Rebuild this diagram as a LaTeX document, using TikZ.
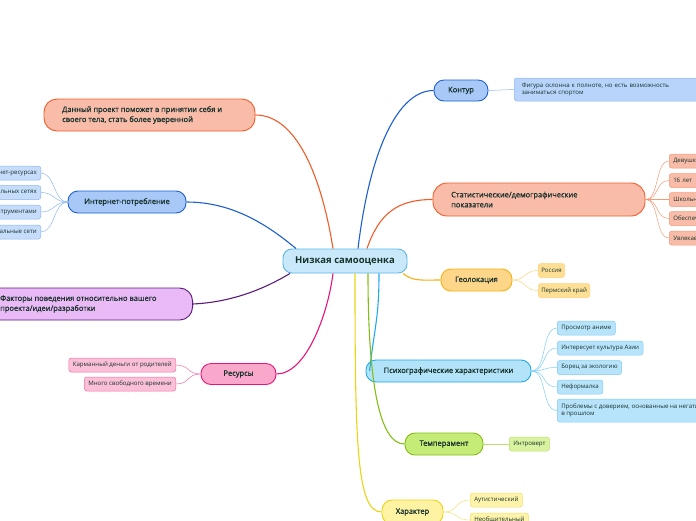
\documentclass[tikz,border=0pt]{standalone}
\usepackage{fontspec}
\setmainfont{Open Sans}
\newfontfamily\semib[BoldFont={Open Sans}, BoldFeatures={FakeBold=0.9}]{Open Sans}
\definecolor{txt}{RGB}{22,48,42}
\definecolor{lorange}{RGB}{242,92,40}
\definecolor{lblue}{RGB}{30,95,210}
\definecolor{lpurple}{RGB}{90,28,120}
\definecolor{lpink}{RGB}{232,20,122}
\definecolor{lgeo}{RGB}{250,175,20}
\definecolor{lpsy}{RGB}{30,170,235}
\definecolor{lgreen}{RGB}{130,190,20}
\definecolor{lyellow}{RGB}{235,212,20}
\definecolor{cdraw}{RGB}{90,183,232}
\definecolor{cfill}{RGB}{201,233,251}
\definecolor{fsalmon}{RGB}{248,188,169}
\definecolor{fblue}{RGB}{168,201,248}
\definecolor{fpurple}{RGB}{233,186,246}
\definecolor{fpink}{RGB}{249,168,204}
\definecolor{fgeo}{RGB}{253,214,138}
\definecolor{fpsy}{RGB}{179,227,248}
\definecolor{fgreen}{RGB}{198,236,120}
\definecolor{fyellow}{RGB}{253,243,163}
\definecolor{bldraw}{RGB}{141,182,240}
\definecolor{blfill}{RGB}{197,220,250}
\definecolor{bkfill}{RGB}{184,212,251}
\definecolor{pkdraw}{RGB}{240,110,166}
\definecolor{pkfill}{RGB}{251,192,216}
\definecolor{sadraw}{RGB}{243,154,120}
\definecolor{gedraw}{RGB}{253,210,122}
\definecolor{gefill}{RGB}{253,224,150}
\definecolor{psdraw}{RGB}{127,205,242}
\definecolor{psfill}{RGB}{184,228,251}
\definecolor{grdraw}{RGB}{184,224,112}
\definecolor{grfill}{RGB}{218,243,160}
\definecolor{yedraw}{RGB}{245,225,110}
\definecolor{yefill}{RGB}{253,243,170}
\tikzset{
  base/.style={text=txt, inner sep=0pt, line width=0.9pt},
  central/.style={base, rounded corners=9pt, draw=cdraw, fill=cfill, font=\fontsize{9.5}{11}\selectfont\bfseries, minimum height=24pt},
  tfont/.style={font=\fontsize{7.5}{10}\selectfont\semib\bfseries},
  topic/.style={base, tfont, rounded corners=10pt, minimum height=22pt},
  ttext/.style={text=txt, tfont, anchor=west, align=left, inner sep=0pt},
  leaf/.style={text=txt, inner sep=0pt, line width=0.5pt, rounded corners=2.5pt, minimum height=14pt, font=\fontsize{6.1}{7.6}\selectfont, align=left},
  conn/.style={line width=1.1pt},
  lconn/.style={line width=0.5pt},
}
\begin{document}
\begin{tikzpicture}[x={(1pt,0pt)},y={(0pt,-1pt)}]
\useasboundingbox (0,0) rectangle (696,520);
\clip (0,0) rectangle (696,520);
% central
\node[central, minimum width=124pt] (c) at (345,261) {Низкая самооценка};
% topics
\node[topic, draw=lorange, fill=fsalmon, minimum width=211pt, minimum height=32pt, rounded corners=13pt] (p) at (149.5,115) {};
\node[ttext] (pt) at (62,115) {Данный проект поможет в принятии себя и\\своего тела, стать более уверенной};
\node[topic, draw=lblue, fill=fblue, minimum width=118pt] (i) at (127,202) {Интернет-потребление};
\node[topic, draw=lpurple, fill=fpurple, minimum width=230pt, minimum height=32pt, rounded corners=13pt, anchor=east] (f) at (193,304) {};
\node[ttext] (ft) at (0,304) {Факторы поведения относительно вашего\\проекта/идеи/разработки};
\node[topic, draw=lpink, fill=fpink, minimum width=75pt, minimum height=21pt] (r) at (238.5,374) {Ресурсы};
\node[topic, draw=lblue, fill=fblue, minimum width=54pt, minimum height=21pt] (k) at (461,90.5) {Контур};
\node[topic, draw=lorange, fill=fsalmon, minimum width=212pt, minimum height=33pt, rounded corners=14pt] (s) at (539,199.5) {};
\node[ttext] (st) at (451,199.5) {Статистические/демографические\\показатели};
\node[topic, draw=lgeo, fill=fgeo, minimum width=71pt] (g) at (476.5,280) {Геолокация};
\node[topic, draw=lpsy, fill=fpsy, minimum width=165pt] (ps) at (448.5,371) {Психографические характеристики};
\node[topic, draw=lgreen, fill=fgreen, minimum width=78pt] (t) at (444,444) {Темперамент};
\node[topic, draw=lyellow, fill=fyellow, minimum width=61pt, minimum height=24pt] (h) at (412.5,512) {Характер};
% main connectors
\draw[conn, lorange] (p.east) .. controls +(40,0) and +(-12,-75) .. ([xshift=-12pt]c.north);
\draw[conn, lblue] (i.east) .. controls +(45,0) and +(-30,-25) .. ([xshift=-49pt]c.north);
\draw[conn, lpurple] (f.east) .. controls +(40,-2) and +(-25,15) .. ([xshift=-55pt]c.south);
\draw[conn, lpink] (r.east) .. controls +(30,0) and +(-5,40) .. ([xshift=-12pt]c.south);
\draw[conn, lblue] ([xshift=13pt]c.north) .. controls +(12,-100) and +(-35,0) .. (k.west);
\draw[conn, lorange] ([xshift=22pt]c.north) .. controls +(12,-35) and +(-35,0) .. (s.west);
\draw[conn, lgeo] ([xshift=58pt]c.south) .. controls +(10,8) and +(-20,0) .. (g.west);
\draw[conn, lpsy] ([xshift=34pt]c.south) .. controls +(0,45) and +(5,-45) .. ([xshift=4pt]ps.west);
\draw[conn, lgreen] ([xshift=23pt]c.south) .. controls +(0,110) and +(-25,0) .. (t.west);
\draw[conn, lyellow] ([xshift=10pt]c.south) .. controls +(0,170) and +(-25,0) .. (h.west);
% internet leaves
\begin{scope}[every node/.style={leaf, draw=bldraw, fill=blfill, anchor=east, inner xsep=4pt}]
\node (i1) at (41,173) {Пользуется интернет-ресурсах};
\node (i2) at (41,192.5) {Зарегистрирована в социальных сетях};
\node (i3) at (41,212) {Владеет интернет-инструментами};
\node (i4) at (41,232) {Любимые социальные сети};
\end{scope}
\foreach \n in {i1,i2,i3,i4}{\draw[lconn, bldraw] (i.west) .. controls +(-14,0) and +(14,0) .. (\n.east);}
% resources leaves
\begin{scope}[every node/.style={leaf, draw=pkdraw, fill=pkfill, anchor=east, inner xsep=4pt}]
\node (r1) at (176,365) {Карманный деньги от родителей};
\node (r2) at (176,384) {Много свободного времени};
\end{scope}
\foreach \n in {r1,r2}{\draw[lconn, pkdraw] (r.west) .. controls +(-14,0) and +(14,0) .. (\n.east);}
% contour leaf
\node[leaf, draw=bldraw, fill=bkfill, anchor=west, minimum height=23pt, minimum width=200pt, text width=185pt, inner xsep=4pt] (k1) at (514,89.5) {Фигура склонна к полноте, но есть возможность\\заниматься спортом};
\draw[lconn, bldraw] (k.east) -- (k1.west);
% demographic leaves
\begin{scope}[every node/.style={leaf, draw=sadraw, fill=fsalmon, anchor=west, inner xsep=4pt, minimum width=60pt, text width=52pt}]
\node (s1) at (669,161) {Девушка};
\node (s2) at (669,180.5) {16 лет};
\node (s3) at (669,199.5) {Школьница};
\node (s4) at (669,218.5) {Обеспеченная};
\node (s5) at (669,238) {Увлекается};
\end{scope}
\foreach \n in {s1,s2,s3,s4,s5}{\draw[lconn, sadraw] (s.east) .. controls +(14,0) and +(-14,0) .. (\n.west);}
% geo leaves
\begin{scope}[every node/.style={leaf, draw=gedraw, fill=gefill, anchor=west, inner xsep=3pt}]
\node (g1) at (538,270.5) {Россия};
\node (g2) at (538,290.5) {Пермский край};
\end{scope}
\foreach \n in {g1,g2}{\draw[lconn, gedraw] (g.east) .. controls +(14,0) and +(-14,0) .. (\n.west);}
% psychographic leaves
\begin{scope}[every node/.style={leaf, draw=psdraw, fill=psfill, anchor=west, inner xsep=4pt}]
\node (q1) at (557,328) {Просмотр аниме};
\node (q2) at (557,348) {Интересует культура Азии};
\node (q3) at (557,367.5) {Борец за экологию};
\node (q4) at (557,387) {Неформалка};
\node[minimum height=23pt] (q5) at (557,410.5) {Проблемы с доверием, основанные на негативном опыте\\в прошлом};
\end{scope}
\foreach \n in {q1,q2,q3,q4,q5}{\draw[lconn, psdraw] (ps.east) .. controls +(16,0) and +(-16,0) .. (\n.west);}
% temperament leaf
\node[leaf, draw=grdraw, fill=grfill, anchor=west, inner xsep=4pt] (t1) at (509,444) {Интроверт};
\draw[lconn, grdraw] (t.east) -- (t1.west);
% character leaves
\begin{scope}[every node/.style={leaf, draw=yedraw, fill=yefill, anchor=west, inner xsep=4pt}]
\node (h1) at (470,500) {Аутистический};
\node (h2) at (470,520) {Необщительный};
\end{scope}
\foreach \n in {h1,h2}{\draw[lconn, yedraw] (h.east) .. controls +(16,0) and +(-16,0) .. (\n.west);}
\end{tikzpicture}
\end{document}
